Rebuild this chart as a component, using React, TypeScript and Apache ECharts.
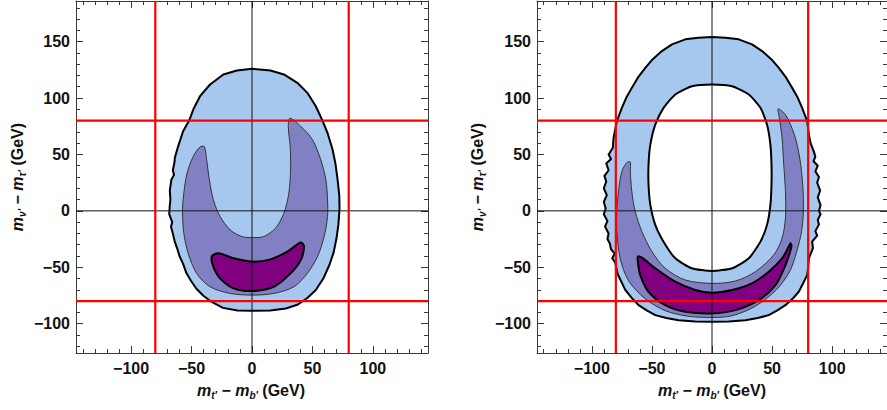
import React, { useEffect, useRef } from "react";
import * as echarts from "echarts";

// ---- axis ranges & ticks ----
const X_MIN = -145.6;
const X_MAX = 145.6;
const Y_MIN = -126;
const Y_MAX = 186;
const X_MAJOR = [-100, -50, 0, 50, 100];
const Y_MAJOR = [-100, -50, 0, 50, 100, 150];
const X_MINOR = [-140, -130, -120, -110, -100, -90, -80, -70, -60, -50, -40, -30, -20, -10, 0, 10, 20, 30, 40, 50, 60, 70, 80, 90, 100, 110, 120, 130, 140];
const Y_MINOR = [-120, -110, -100, -90, -80, -70, -60, -50, -40, -30, -20, -10, 0, 10, 20, 30, 40, 50, 60, 70, 80, 90, 100, 110, 120, 130, 140, 150, 160, 170, 180];
const RED_LINES = [-80, 80];
const ZERO_LINES = [0];

// ---- left panel contours ----
const LEFT_OUTER = [[0, 126], [15.3, 124.4], [26.4, 120.9], [37.5, 113.5], [45.8, 104.6], [52.8, 92.7], [58.3, 80], [62.5, 69], [66.7, 54.2], [69, 42], [70.8, 27.6], [72.2, 14], [72.4, 2], [71.5, -12], [69.8, -25], [67.5, -37], [64, -48], [59, -60], [52.8, -70.2], [46, -77], [38, -83], [28, -86.5], [15, -88.3], [0, -88.6], [-12, -88.3], [-24, -86], [-33, -81], [-40, -75.5], [-46, -69], [-50.5, -62], [-54.2, -55.4], [-57, -47], [-60, -40], [-62, -33], [-64, -27], [-65.5, -20], [-67, -14], [-66, -10], [-68.5, -3], [-68, 5], [-67.5, 10], [-68, 18], [-66.7, 27.6], [-64.5, 32], [-65.5, 36], [-64, 44], [-63.9, 46.8], [-61.1, 57.2], [-57, 70.5], [-52, 80], [-48.6, 89.8], [-43, 101.6], [-34.7, 112], [-23.7, 120.9], [-12.5, 124.4]];
const LEFT_MID = [[31.5, 82], [40.3, 74.9], [50, 63.1], [56.9, 45.3], [61.1, 27.6], [62.5, 9.8], [62.5, -5], [59.7, -22.8], [54.2, -40.6], [45.8, -55.4], [34.7, -67.3], [18, -73.2], [0, -74.7], [-18, -73.2], [-34.7, -67.3], [-45.8, -55.4], [-52.8, -37.6], [-56.4, -19.9], [-57.5, -0.6], [-56.4, 15.7], [-53.7, 33.5], [-48.6, 48.3], [-43, 56.6], [-39.5, 57], [-37.5, 45.3], [-35.3, 27.6], [-32, 9.8], [-26.4, -5], [-18, -16.9], [-8.3, -22.8], [0, -23.7], [9.7, -22.8], [19.4, -15.4], [26.4, -2.1], [30.5, 15.7], [31.9, 36.4], [31.6, 57.2], [30, 74.9]];
const LEFT_CORE = [[-33.3, -40.6], [-27.8, -37.6], [-15.3, -42.1], [0, -45], [15.3, -43], [29.2, -36.1], [40.3, -28.1], [43, -31.7], [40.3, -43.6], [31.9, -55.4], [18, -67.3], [0, -71.1], [-15.3, -68.7], [-26.4, -59.9], [-32, -49.5]];

// ---- right panel contours ----
const RIGHT_OUTER = [[0, 154], [11.2, 153.5], [22.2, 152], [33.3, 147.6], [41.7, 141.6], [49.5, 134.2], [55.6, 126.8], [61.7, 118], [66.7, 109], [71.4, 100.2], [75, 91.3], [79.2, 79.4], [80.6, 67.6], [82, 60], [84.7, 52.7], [86, 48], [84.5, 44], [88, 40], [86, 35], [89, 30], [87.5, 25], [90, 18], [88, 12], [90.3, 5], [89, 0], [90.3, -3], [88, -8], [89, -12], [86, -18], [87.5, -22], [83.3, -27.3], [84, -33], [80.6, -42.1], [80, -50], [79.2, -57], [75, -66], [72.2, -71.7], [67, -78], [61.1, -83.6], [54, -88.5], [47.2, -92.4], [38, -95], [27.8, -96.9], [14, -98], [0, -98.4], [-14, -98], [-27.8, -96.9], [-38, -95], [-47.2, -92.4], [-54, -88.5], [-61.1, -83.6], [-67, -77], [-72.2, -70], [-78.5, -56], [-80.5, -46], [-83, -42], [-81, -38], [-84, -34], [-85, -29], [-87, -25], [-86, -20], [-89, -14], [-87, -9], [-90, -3], [-88.5, 2], [-90, 8], [-87.5, 14], [-90, 20], [-88, 26], [-89.5, 31], [-86, 36], [-88, 42], [-84, 46], [-86, 50], [-82.5, 56], [-81.9, 64.6], [-79.2, 79.4], [-75, 91.3], [-71.4, 100.2], [-66.7, 109], [-61.7, 118], [-55.5, 126.8], [-49.5, 134.2], [-41.7, 141.6], [-33.3, 147.6], [-22.2, 152], [-11.2, 153.5]];
const RIGHT_HOLE = [[0, 112], [16.7, 110.5], [30.6, 103.1], [40.3, 91.3], [45.8, 76.4], [48.6, 58.7], [49.5, 40.9], [49.5, 23.1], [48.6, 5.3], [45.8, -12.4], [40.3, -27.3], [30.6, -42.1], [16.7, -50.9], [0, -53.3], [-16.7, -50.9], [-30.5, -42.1], [-40.3, -27.3], [-47.2, -12.4], [-51.3, 5.3], [-52.8, 23.1], [-52.8, 40.9], [-51.3, 58.7], [-47.2, 76.4], [-40.3, 91.3], [-30.5, 103.1], [-16.7, 110.5]];
const RIGHT_MID = [[55, 90.4], [61.1, 85.3], [68.5, 67.6], [73, 46.8], [75.5, 23.1], [76, -0.6], [74.5, -18.4], [70.5, -36.1], [64.5, -54], [53.5, -70], [36.1, -84.5], [16.7, -93], [0, -94.5], [-19.4, -93.5], [-38.9, -88.5], [-55.5, -78], [-69.4, -62], [-76.4, -42.1], [-79.2, -18.4], [-79.2, -0.6], [-77.8, 17.2], [-75, 34.9], [-70.8, 42.9], [-68, 43.3], [-68, 34.9], [-66.7, 17.2], [-63.9, -0.6], [-58.3, -18.4], [-50, -36.1], [-38.9, -50.9], [-22.2, -61.3], [0, -64.3], [19.5, -62.2], [36.1, -53.9], [51.4, -39.1], [58.3, -24.3], [61.1, -6.5], [61.1, 17.2], [59.7, 40.9], [58.3, 64.6], [56.1, 82.4]];
const RIGHT_CORE = [[-61.7, -40.6], [-58.3, -41.5], [-47.2, -50.9], [-30.5, -62.8], [-13.9, -70.2], [0, -72.5], [16.7, -70.2], [33.3, -64.3], [47.2, -53.9], [58.3, -42.1], [63.9, -31.7], [65.3, -28.7], [66.1, -31.7], [61.1, -48], [52.8, -65.8], [38.9, -79.1], [19.5, -88], [0, -91], [-22.2, -89.5], [-38.9, -83.6], [-52.8, -71.7], [-59.7, -56.9], [-61.7, -45]];

const LIGHT = "#A6C8EE";
const MID = "#8080C2";
const DARK = "#800080";
const WHITE = "#FFFFFF";
const FRAME = "#3a3a3a";
const FONT = '"Liberation Sans", Arial, sans-serif';

type Shape = { pts: number[][]; fill: string; stroke: string; lw: number; smooth: number };

const LEFT_SHAPES: Shape[] = [
  { pts: LEFT_OUTER, fill: LIGHT, stroke: "#000", lw: 2, smooth: 0 },
  { pts: LEFT_MID, fill: MID, stroke: "#333", lw: 1, smooth: 0.3 },
  { pts: LEFT_CORE, fill: DARK, stroke: "#000", lw: 2, smooth: 0.3 },
];
const RIGHT_SHAPES: Shape[] = [
  { pts: RIGHT_OUTER, fill: LIGHT, stroke: "#000", lw: 2, smooth: 0 },
  { pts: RIGHT_HOLE, fill: WHITE, stroke: "#000", lw: 2, smooth: 0.2 },
  { pts: RIGHT_MID, fill: MID, stroke: "#333", lw: 1, smooth: 0.3 },
  { pts: RIGHT_CORE, fill: DARK, stroke: "#000", lw: 2, smooth: 0.3 },
];

const fmt = (v: number) => (v < 0 ? "\u2212" + Math.abs(v) : String(v));

function xAxesFor(g: number) {
  const base = { gridIndex: g, type: "value", min: X_MIN, max: X_MAX, splitLine: { show: false } };
  return [
    {
      ...base, position: "bottom",
      axisLine: { show: true, onZero: false, lineStyle: { color: FRAME, width: 1 } },
      axisTick: { show: true, inside: true, length: 7, customValues: X_MAJOR, lineStyle: { color: FRAME } },
      axisLabel: { show: true, customValues: X_MAJOR, formatter: fmt, fontSize: 16, fontWeight: "bold", fontFamily: FONT, color: "#111", margin: 7 },
    },
    {
      ...base, position: "top",
      axisLine: { show: true, onZero: false, lineStyle: { color: FRAME, width: 1 } },
      axisTick: { show: true, inside: true, length: 7, customValues: X_MAJOR, lineStyle: { color: FRAME } },
      axisLabel: { show: false },
    },
    {
      ...base, position: "bottom",
      axisLine: { show: false, onZero: false },
      axisTick: { show: true, inside: true, length: 4, customValues: X_MINOR, lineStyle: { color: FRAME } },
      axisLabel: { show: false },
    },
    {
      ...base, position: "top",
      axisLine: { show: false, onZero: false },
      axisTick: { show: true, inside: true, length: 4, customValues: X_MINOR, lineStyle: { color: FRAME } },
      axisLabel: { show: false },
    },
  ];
}

function yAxesFor(g: number) {
  const base = { gridIndex: g, type: "value", min: Y_MIN, max: Y_MAX, splitLine: { show: false } };
  return [
    {
      ...base, position: "left",
      axisLine: { show: true, onZero: false, lineStyle: { color: FRAME, width: 1 } },
      axisTick: { show: true, inside: true, length: 7, customValues: Y_MAJOR, lineStyle: { color: FRAME } },
      axisLabel: { show: true, customValues: Y_MAJOR, formatter: fmt, fontSize: 16, fontWeight: "bold", fontFamily: FONT, color: "#111", margin: 6 },
    },
    {
      ...base, position: "right",
      axisLine: { show: true, onZero: false, lineStyle: { color: FRAME, width: 1 } },
      axisTick: { show: true, inside: true, length: 7, customValues: Y_MAJOR, lineStyle: { color: FRAME } },
      axisLabel: { show: false },
    },
    {
      ...base, position: "left",
      axisLine: { show: false, onZero: false },
      axisTick: { show: true, inside: true, length: 4, customValues: Y_MINOR, lineStyle: { color: FRAME } },
      axisLabel: { show: false },
    },
    {
      ...base, position: "right",
      axisLine: { show: false, onZero: false },
      axisTick: { show: true, inside: true, length: 4, customValues: Y_MINOR, lineStyle: { color: FRAME } },
      axisLabel: { show: false },
    },
  ];
}

function shapeSeries(g: number, shapes: Shape[]) {
  return {
    type: "custom",
    xAxisIndex: g * 4,
    yAxisIndex: g * 4,
    silent: true,
    clip: true,
    z: 2,
    data: shapes.map((s) => [s.pts[0][0], s.pts[0][1]]),
    renderItem: (params: any, api: any) => {
      const s = shapes[params.dataIndex];
      const points = s.pts.map((p) => api.coord(p));
      return {
        type: "polygon",
        z2: params.dataIndex,
        shape: { points, smooth: s.smooth },
        style: { fill: s.fill, stroke: s.stroke, lineWidth: s.lw, lineJoin: "round" },
      };
    },
  };
}

function lineSeries(g: number) {
  const items: any[] = [];
  ZERO_LINES.forEach((v) => {
    items.push([v, Y_MIN, v, Y_MAX, 0]);
    items.push([X_MIN, v, X_MAX, v, 0]);
  });
  RED_LINES.forEach((v) => {
    items.push([v, Y_MIN, v, Y_MAX, 1]);
    items.push([X_MIN, v, X_MAX, v, 1]);
  });
  return {
    type: "custom",
    xAxisIndex: g * 4,
    yAxisIndex: g * 4,
    silent: true,
    clip: true,
    z: 3,
    data: items,
    renderItem: (params: any, api: any) => {
      const p1 = api.coord([api.value(0), api.value(1)]);
      const p2 = api.coord([api.value(2), api.value(3)]);
      const red = api.value(4) === 1;
      return {
        type: "line",
        z2: red ? 2 : 1,
        shape: { x1: p1[0], y1: p1[1], x2: p2[0], y2: p2[1] },
        style: { stroke: red ? "#FF0000" : "#111", lineWidth: red ? 2.2 : 1 },
      };
    },
  };
}

const titleRich = {
  m: { fontStyle: "italic", fontWeight: "bold", fontSize: 16, fontFamily: FONT, fill: "#111", lineHeight: 20 },
  s: { fontStyle: "italic", fontWeight: "bold", fontSize: 10, fontFamily: FONT, fill: "#111", lineHeight: 10, verticalAlign: "bottom" },
  n: { fontWeight: "bold", fontSize: 16, fontFamily: FONT, fill: "#111", lineHeight: 20 },
};

function title(text: string, x: number, y: number, rot: number) {
  return {
    type: "text",
    x, y,
    rotation: rot,
    silent: true,
    style: { text, rich: titleRich, align: "center", verticalAlign: "middle", fontSize: 16, fontWeight: "bold", fontFamily: FONT, fill: "#111" },
  };
}

const X_TITLE = "{m|m}{s|t\u2032}{n| \u2212 }{m|m}{s|b\u2032}{n| (GeV)}";
const Y_TITLE = "{m|m}{s|\u03BD\u2032}{n| \u2212 }{m|m}{s|\u03C4\u2032}{n| (GeV)}";

export default function App() {
  const ref = useRef<HTMLDivElement>(null);
  useEffect(() => {
    if (!ref.current) return;
    const chart = echarts.init(ref.current, undefined, { renderer: "svg" });
    chart.setOption({
      animation: false,
      backgroundColor: "#ffffff",
      grid: [
        { left: 76, top: 1, width: 352, height: 352, containLabel: false },
        { left: 537, top: 1, width: 352, height: 352, containLabel: false },
      ],
      xAxis: [...xAxesFor(0), ...xAxesFor(1)],
      yAxis: [...yAxesFor(0), ...yAxesFor(1)],
      series: [shapeSeries(0, LEFT_SHAPES), lineSeries(0), shapeSeries(1, RIGHT_SHAPES), lineSeries(1)],
      graphic: [
        title(Y_TITLE, 17, 177, Math.PI / 2),
        title(X_TITLE, 251, 390, 0),
        title(Y_TITLE, 477, 177, Math.PI / 2),
        title(X_TITLE, 712, 390, 0),
      ],
    });
    return () => chart.dispose();
  }, []);
  return <div ref={ref} style={{ position: "absolute", left: 0, top: 0, width: 887, height: 410 }} />;
}
